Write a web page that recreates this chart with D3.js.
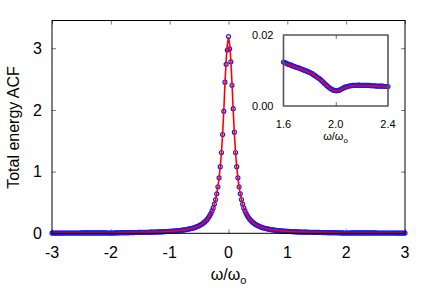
<!DOCTYPE html>
<html>
<head>
<meta charset="utf-8">
<script src="https://cdn.jsdelivr.net/npm/d3@7"></script>
<style>
  body { margin: 0; background: #fff; }
  svg text { font-family: "Liberation Sans", Arial, sans-serif; fill: #000; }
</style>
</head>
<body>
<div id="chart"></div>
<script>
// simulation grid (omega / omega_0), step 0.02
const omega = [
  -3.00,-2.98,-2.96,-2.94,-2.92,-2.90,-2.88,-2.86,-2.84,-2.82,
  -2.80,-2.78,-2.76,-2.74,-2.72,-2.70,-2.68,-2.66,-2.64,-2.62,
  -2.60,-2.58,-2.56,-2.54,-2.52,-2.50,-2.48,-2.46,-2.44,-2.42,
  -2.40,-2.38,-2.36,-2.34,-2.32,-2.30,-2.28,-2.26,-2.24,-2.22,
  -2.20,-2.18,-2.16,-2.14,-2.12,-2.10,-2.08,-2.06,-2.04,-2.02,
  -2.00,-1.98,-1.96,-1.94,-1.92,-1.90,-1.88,-1.86,-1.84,-1.82,
  -1.80,-1.78,-1.76,-1.74,-1.72,-1.70,-1.68,-1.66,-1.64,-1.62,
  -1.60,-1.58,-1.56,-1.54,-1.52,-1.50,-1.48,-1.46,-1.44,-1.42,
  -1.40,-1.38,-1.36,-1.34,-1.32,-1.30,-1.28,-1.26,-1.24,-1.22,
  -1.20,-1.18,-1.16,-1.14,-1.12,-1.10,-1.08,-1.06,-1.04,-1.02,
  -1.00,-0.98,-0.96,-0.94,-0.92,-0.90,-0.88,-0.86,-0.84,-0.82,
  -0.80,-0.78,-0.76,-0.74,-0.72,-0.70,-0.68,-0.66,-0.64,-0.62,
  -0.60,-0.58,-0.56,-0.54,-0.52,-0.50,-0.48,-0.46,-0.44,-0.42,
  -0.40,-0.38,-0.36,-0.34,-0.32,-0.30,-0.28,-0.26,-0.24,-0.22,
  -0.20,-0.18,-0.16,-0.14,-0.12,-0.10,-0.08,-0.06,-0.04,-0.02,
  0.00,
  0.02,0.04,0.06,0.08,0.10,0.12,0.14,0.16,0.18,0.20,
  0.22,0.24,0.26,0.28,0.30,0.32,0.34,0.36,0.38,0.40,
  0.42,0.44,0.46,0.48,0.50,0.52,0.54,0.56,0.58,0.60,
  0.62,0.64,0.66,0.68,0.70,0.72,0.74,0.76,0.78,0.80,
  0.82,0.84,0.86,0.88,0.90,0.92,0.94,0.96,0.98,1.00,
  1.02,1.04,1.06,1.08,1.10,1.12,1.14,1.16,1.18,1.20,
  1.22,1.24,1.26,1.28,1.30,1.32,1.34,1.36,1.38,1.40,
  1.42,1.44,1.46,1.48,1.50,1.52,1.54,1.56,1.58,1.60,
  1.62,1.64,1.66,1.68,1.70,1.72,1.74,1.76,1.78,1.80,
  1.82,1.84,1.86,1.88,1.90,1.92,1.94,1.96,1.98,2.00,
  2.02,2.04,2.06,2.08,2.10,2.12,2.14,2.16,2.18,2.20,
  2.22,2.24,2.26,2.28,2.30,2.32,2.34,2.36,2.38,2.40,
  2.42,2.44,2.46,2.48,2.50,2.52,2.54,2.56,2.58,2.60,
  2.62,2.64,2.66,2.68,2.70,2.72,2.74,2.76,2.78,2.80,
  2.82,2.84,2.86,2.88,2.90,2.92,2.94,2.96,2.98,3.00
];

// simulation (blue circles)
const acfSim = [
  0.0040,0.0041,0.0041,0.0042,0.0042,0.0043,0.0043,0.0044,0.0044,0.0045,
  0.0045,0.0046,0.0046,0.0047,0.0047,0.0048,0.0048,0.0049,0.0049,0.0050,
  0.0050,0.0051,0.0051,0.0052,0.0052,0.0053,0.0053,0.0054,0.0054,0.0055,
  0.0055,0.0055,0.0056,0.0056,0.0056,0.0057,0.0057,0.0058,0.0058,0.0058,
  0.0058,0.0059,0.0058,0.0058,0.0057,0.0056,0.0054,0.0051,0.0047,0.0044,
  0.0043,0.0045,0.0049,0.0055,0.0062,0.0069,0.0076,0.0081,0.0086,0.0091,
  0.0095,0.0098,0.0101,0.0104,0.0107,0.0109,0.0112,0.0115,0.0117,0.0121,
  0.0123,0.0128,0.0131,0.0134,0.0138,0.0142,0.0145,0.0149,0.0154,0.0158,
  0.0162,0.0167,0.0172,0.0177,0.0183,0.0188,0.0194,0.0200,0.0207,0.0214,
  0.0221,0.0228,0.0236,0.0244,0.0253,0.0262,0.0272,0.0282,0.0293,0.0305,
  0.0317,0.0330,0.0343,0.0358,0.0374,0.0390,0.0408,0.0427,0.0447,0.0469,
  0.0492,0.0517,0.0545,0.0574,0.0606,0.0640,0.0677,0.0718,0.0763,0.0811,
  0.086,0.092,0.099,0.106,0.114,0.123,0.133,0.144,0.157,0.172,
  0.188,0.207,0.229,0.255,0.285,0.32,0.362,0.412,0.473,0.548,
  0.64,0.755,0.90,1.08,1.31,1.60,1.98,2.45,2.74,2.97,
  3.19,
  2.99,2.78,2.40,2.02,1.64,1.31,1.08,0.90,0.755,0.64,
  0.548,0.473,0.412,0.362,0.32,0.285,0.255,0.229,0.207,0.188,
  0.172,0.157,0.144,0.133,0.123,0.114,0.106,0.099,0.092,0.086,
  0.0811,0.0763,0.0718,0.0677,0.0640,0.0606,0.0574,0.0545,0.0517,0.0492,
  0.0469,0.0447,0.0427,0.0408,0.0390,0.0374,0.0358,0.0343,0.0330,0.0317,
  0.0305,0.0293,0.0282,0.0272,0.0262,0.0253,0.0244,0.0236,0.0228,0.0221,
  0.0214,0.0207,0.0200,0.0194,0.0188,0.0183,0.0177,0.0172,0.0167,0.0162,
  0.0158,0.0154,0.0149,0.0145,0.0142,0.0138,0.0134,0.0131,0.0128,0.0123,
  0.0121,0.0117,0.0115,0.0112,0.0109,0.0107,0.0104,0.0101,0.0098,0.0095,
  0.0091,0.0086,0.0081,0.0076,0.0069,0.0062,0.0055,0.0049,0.0045,0.0043,
  0.0044,0.0047,0.0051,0.0054,0.0056,0.0057,0.0058,0.0058,0.0059,0.0058,
  0.0058,0.0058,0.0058,0.0057,0.0057,0.0056,0.0056,0.0056,0.0055,0.0055,
  0.0055,0.0054,0.0054,0.0053,0.0053,0.0052,0.0052,0.0051,0.0051,0.0050,
  0.0050,0.0049,0.0049,0.0048,0.0048,0.0047,0.0047,0.0046,0.0046,0.0045,
  0.0045,0.0044,0.0044,0.0043,0.0043,0.0042,0.0042,0.0041,0.0041,0.0040
];

// model fit (red line), coarser grid
const fitOmega = [
  -3.00,-2.90,-2.80,-2.70,-2.60,-2.50,-2.40,-2.30,-2.20,-2.15,-2.10,-2.05,-2.00,-1.95,-1.90,-1.85,
  -1.80,-1.70,-1.60,-1.50,-1.40,-1.30,-1.20,-1.10,-1.00,-0.90,-0.80,-0.70,-0.65,
  -0.60,-0.56,-0.52,-0.48,-0.44,-0.40,-0.36,-0.32,-0.28,-0.24,-0.20,-0.18,-0.16,-0.14,-0.12,
  -0.10,-0.08,-0.06,-0.04,-0.02,0.00,0.02,0.04,0.06,0.08,0.10,
  0.12,0.14,0.16,0.18,0.20,0.24,0.28,0.32,0.36,0.40,0.44,0.48,0.52,0.56,0.60,
  0.65,0.70,0.80,0.90,1.00,1.10,1.20,1.30,1.40,1.50,1.60,1.70,1.80,
  1.85,1.90,1.95,2.00,2.05,2.10,2.15,2.20,2.30,2.40,2.50,2.60,2.70,2.80,2.90,3.00
];
const acfFit = [
  0.0040,0.0042,0.0045,0.0048,0.0050,0.0053,0.0055,0.0057,0.0057,0.0057,0.0055,0.0049,0.0044,0.0052,0.0068,0.0082,
  0.0094,0.0108,0.0122,0.0142,0.0162,0.0188,0.0221,0.0262,0.0317,0.0390,0.0492,0.0640,0.0740,
  0.086,0.099,0.114,0.133,0.157,0.188,0.229,0.285,0.362,0.473,0.64,0.755,0.90,1.08,1.31,
  1.61,1.99,2.42,2.80,3.05,3.17,3.05,2.80,2.42,1.99,1.61,
  1.31,1.08,0.90,0.755,0.64,0.473,0.362,0.285,0.229,0.188,0.157,0.133,0.114,0.099,0.086,
  0.0740,0.0640,0.0492,0.0390,0.0317,0.0262,0.0221,0.0188,0.0162,0.0142,0.0122,0.0108,0.0094,
  0.0082,0.0068,0.0052,0.0044,0.0049,0.0055,0.0057,0.0057,0.0057,0.0055,0.0053,0.0050,0.0048,0.0045,0.0042,0.0040
];

// inset: zoom on 1.6 .. 2.4
const insetOmega = [
  1.60,1.61,1.62,1.63,1.64,1.65,1.66,1.67,1.68,1.69,
  1.70,1.71,1.72,1.73,1.74,1.75,1.76,1.77,1.78,1.79,
  1.80,1.81,1.82,1.83,1.84,1.85,1.86,1.87,1.88,1.89,
  1.90,1.91,1.92,1.93,1.94,1.95,1.96,1.97,1.98,1.99,
  2.00,2.01,2.02,2.03,2.04,2.05,2.06,2.07,2.08,2.09,
  2.10,2.11,2.12,2.13,2.14,2.15,2.16,2.17,2.18,2.19,
  2.20,2.21,2.22,2.23,2.24,2.25,2.26,2.27,2.28,2.29,
  2.30,2.31,2.32,2.33,2.34,2.35,2.36,2.37,2.38,2.39,
  2.40
];
const insetSim = [
  0.0124,0.0122,0.0121,0.0119,0.0117,0.0116,0.0115,0.0113,0.0112,0.0110,
  0.0109,0.0108,0.0107,0.0105,0.0104,0.0102,0.0101,0.0099,0.0098,0.0096,
  0.0095,0.0093,0.0091,0.0088,0.0086,0.0083,0.0081,0.0078,0.0076,0.0072,
  0.0069,0.0065,0.0062,0.0058,0.0055,0.0052,0.0049,0.0047,0.0045,0.0044,
  0.0043,0.0043,0.0044,0.0045,0.0047,0.0049,0.0051,0.0053,0.0054,0.0055,
  0.0056,0.0057,0.0057,0.0058,0.0058,0.0058,0.0058,0.0059,0.0059,0.0058,
  0.0058,0.0058,0.0058,0.0058,0.0058,0.0058,0.0058,0.0057,0.0057,0.0057,
  0.0057,0.0056,0.0056,0.0056,0.0056,0.0056,0.0056,0.0055,0.0055,0.0055,
  0.0055
];
const insetFitOmega = [
  1.60,1.62,1.64,1.66,1.68,1.70,1.72,1.74,1.76,1.78,1.80,1.82,1.84,1.86,1.88,1.90,1.92,1.94,1.96,1.98,
  2.00,2.02,2.04,2.06,2.08,2.10,2.12,2.14,2.16,2.18,2.20,2.22,2.24,2.26,2.28,2.30,2.32,2.34,2.36,2.38,2.40
];
const insetFit = [
  0.0121,0.0119,0.0116,0.0114,0.0111,0.0108,0.0106,0.0103,0.0100,0.0097,0.0094,0.0090,0.0085,0.0080,0.0075,0.0068,0.0061,0.0054,0.0048,0.0044,
  0.0042,0.0043,0.0046,0.0050,0.0053,0.0055,0.0056,0.0057,0.0057,0.0057,0.0057,0.0057,0.0057,0.0057,0.0056,0.0056,0.0055,0.0055,0.0055,0.0054,0.0054
];

const xTicks = [-3, -2, -1, 0, 1, 2, 3];
const yTicks = [0, 1, 2, 3];
const insetXTicks = [1.6, 2.0, 2.4];
const insetYTicks = [0.00, 0.02];

const W = 436, H = 305;
const m = { left: 52, right: 405, top: 20.5, bottom: 233.3 };

const svg = d3.select("#chart").append("svg")
  .attr("width", W).attr("height", H);
const defs = svg.append("defs");

const x = d3.scaleLinear().domain([-3, 3]).range([m.left, m.right]);
const y = d3.scaleLinear().domain([0, 3.45]).range([m.bottom, m.top]);

function ticksInward(g) {
  g.select(".domain").remove();
  g.selectAll(".tick line").attr("stroke", "#777");
  g.selectAll(".tick text").remove();
}

// ticks on all four sides, pointing in
svg.append("g").attr("transform", `translate(0,${m.bottom})`)
  .call(d3.axisBottom(x).tickValues(xTicks).tickSize(-4)).call(ticksInward);
svg.append("g").attr("transform", `translate(0,${m.top})`)
  .call(d3.axisTop(x).tickValues(xTicks).tickSize(-4)).call(ticksInward);
svg.append("g").attr("transform", `translate(${m.left},0)`)
  .call(d3.axisLeft(y).tickValues(yTicks).tickSize(-4)).call(ticksInward);
svg.append("g").attr("transform", `translate(${m.right},0)`)
  .call(d3.axisRight(y).tickValues(yTicks).tickSize(-4)).call(ticksInward);

// tick labels
svg.append("g").selectAll("text").data(xTicks).join("text")
  .attr("x", d => x(d)).attr("y", 257.5)
  .attr("text-anchor", "middle").attr("font-size", 16)
  .text(d => d);
svg.append("g").selectAll("text").data(yTicks).join("text")
  .attr("x", 42).attr("y", d => y(d)).attr("dy", "0.36em")
  .attr("text-anchor", "end").attr("font-size", 16)
  .text(d => d);

// axis titles
const xl = svg.append("text").attr("x", 228.5).attr("y", 280)
  .attr("text-anchor", "middle").attr("font-size", 16);
xl.append("tspan").text("ω/ω");
xl.append("tspan").attr("font-size", 11).attr("dy", 4).text("o");

svg.append("text")
  .attr("transform", "translate(18.5,127.5) rotate(-90)")
  .attr("text-anchor", "middle").attr("font-size", 16)
  .text("Total energy ACF");

// data
const pts = omega.map((w, i) => ({ w: w, v: acfSim[i] }));
const fitPts = fitOmega.map((w, i) => ({ w: w, v: acfFit[i] }));

defs.append("clipPath").attr("id", "mainclip")
  .append("rect").attr("x", m.left - 4).attr("y", m.top)
  .attr("width", m.right - m.left + 8).attr("height", m.bottom - m.top + 4);

const plot = svg.append("g").attr("clip-path", "url(#mainclip)");

plot.selectAll("circle").data(pts).join("circle")
  .attr("cx", d => x(d.w)).attr("cy", d => y(d.v))
  .attr("r", 2.0)
  .attr("fill", "none").attr("stroke", "#1a1aff").attr("stroke-width", 1.2);

plot.append("path").datum(fitPts)
  .attr("fill", "none").attr("stroke", "#ff0000").attr("stroke-width", 1.6)
  .attr("d", d3.line().curve(d3.curveMonotoneX).x(d => x(d.w)).y(d => y(d.v)));

// frame
svg.append("rect")
  .attr("x", m.left).attr("y", m.top)
  .attr("width", m.right - m.left).attr("height", m.bottom - m.top)
  .attr("fill", "none").attr("stroke", "#000").attr("stroke-width", 1);

// ---- inset ----
const im = { left: 283.5, right: 388, top: 35, bottom: 106 };
const ix = d3.scaleLinear().domain([1.6, 2.4]).range([im.left, im.right]);
const iy = d3.scaleLinear().domain([0, 0.02]).range([im.bottom, im.top]);

svg.append("rect")
  .attr("x", im.left).attr("y", im.top)
  .attr("width", im.right - im.left).attr("height", im.bottom - im.top)
  .attr("fill", "#fff");

defs.append("clipPath").attr("id", "insetclip")
  .append("rect").attr("x", im.left - 3).attr("y", im.top)
  .attr("width", im.right - im.left + 6).attr("height", im.bottom - im.top);

const ipts = insetOmega.map((w, i) => ({ w: w, v: insetSim[i] }));
const ifit = insetFitOmega.map((w, i) => ({ w: w, v: insetFit[i] }));
const inset = svg.append("g").attr("clip-path", "url(#insetclip)");

inset.selectAll("circle").data(ipts).join("circle")
  .attr("cx", d => ix(d.w)).attr("cy", d => iy(d.v))
  .attr("r", 2.0)
  .attr("fill", "none").attr("stroke", "#1a1aff").attr("stroke-width", 1.2);

inset.append("path").datum(ifit)
  .attr("fill", "none").attr("stroke", "#ff0000").attr("stroke-width", 1.6)
  .attr("d", d3.line().curve(d3.curveMonotoneX).x(d => ix(d.w)).y(d => iy(d.v)));

svg.append("g").attr("transform", `translate(0,${im.bottom})`)
  .call(d3.axisBottom(ix).tickValues([2.0]).tickSize(-4)).call(ticksInward);
svg.append("g").attr("transform", `translate(0,${im.top})`)
  .call(d3.axisTop(ix).tickValues([2.0]).tickSize(-4)).call(ticksInward);

// inset frame: thin black top/bottom, heavier grey sides
svg.append("g").selectAll("line").data([im.top, im.bottom]).join("line")
  .attr("x1", im.left).attr("x2", im.right).attr("y1", d => d).attr("y2", d => d)
  .attr("stroke", "#000").attr("stroke-width", 1);
svg.append("g").selectAll("line").data([im.left, im.right]).join("line")
  .attr("x1", d => d).attr("x2", d => d).attr("y1", im.top - 0.5).attr("y2", im.bottom + 0.5)
  .attr("stroke", "#555").attr("stroke-width", 1.6);

svg.append("g").selectAll("text").data(insetXTicks).join("text")
  .attr("x", d => ix(d)).attr("y", 127.5)
  .attr("text-anchor", "middle").attr("font-size", 11)
  .text(d => d.toFixed(1));
svg.append("g").selectAll("text").data(insetYTicks).join("text")
  .attr("x", 273.5).attr("y", d => iy(d)).attr("dy", "0.36em")
  .attr("text-anchor", "end").attr("font-size", 11)
  .text(d => d.toFixed(2));

const ixl = svg.append("text").attr("x", 335.5).attr("y", 139.5)
  .attr("text-anchor", "middle").attr("font-size", 11);
ixl.append("tspan").text("ω/ω");
ixl.append("tspan").attr("font-size", 8).attr("dy", 3).text("o");
</script>
</body>
</html>
